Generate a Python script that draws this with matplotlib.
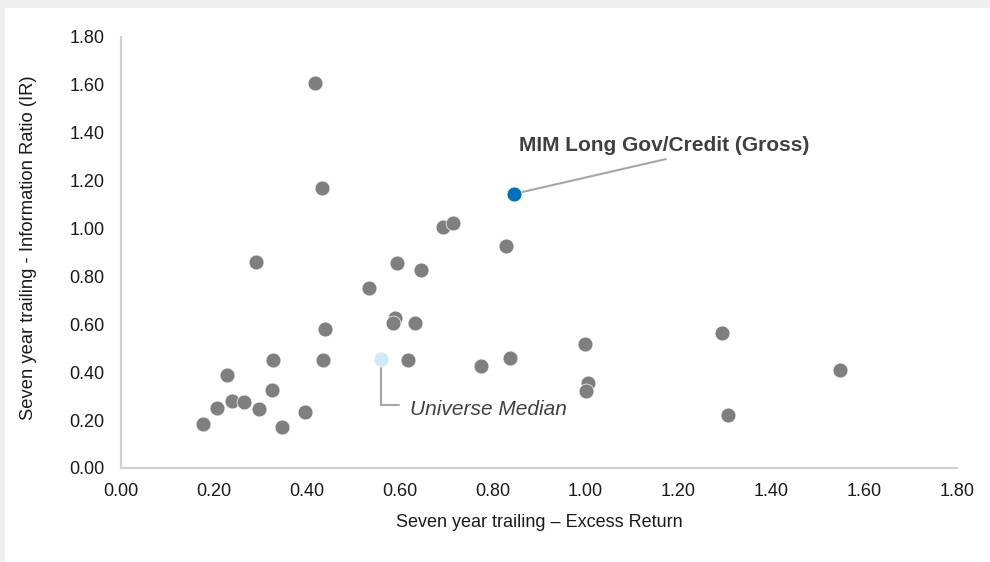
import matplotlib
matplotlib.use("Agg")
import matplotlib.pyplot as plt
from matplotlib.patches import Rectangle

plt.rcParams['font.family'] = ['Liberation Sans', 'DejaVu Sans']

# ---- data ----
universe_x = [0.418, 0.432, 0.693, 0.715, 0.291, 0.594, 0.647, 0.533, 0.591, 0.586,
              0.634, 0.440, 0.327, 0.436, 0.619, 0.775, 0.229, 0.325, 0.239, 0.265,
              0.206, 0.298, 0.397, 0.176, 0.346, 0.829, 0.998, 0.837, 1.005, 1.002,
              1.293, 1.308, 1.548]
universe_y = [1.607, 1.168, 1.008, 1.024, 0.862, 0.857, 0.829, 0.750, 0.626, 0.606,
              0.606, 0.579, 0.453, 0.451, 0.451, 0.425, 0.388, 0.324, 0.281, 0.275,
              0.249, 0.246, 0.233, 0.182, 0.171, 0.926, 0.518, 0.458, 0.357, 0.320,
              0.565, 0.221, 0.408]
mim_x, mim_y = [0.847], [1.145]
median_x, median_y = [0.559], [0.454]
mim_label = "MIM Long Gov/Credit (Gross)"
median_label = "Universe Median"
x_ticks = [0.0, 0.2, 0.4, 0.6, 0.8, 1.0, 1.2, 1.4, 1.6, 1.8]
y_ticks = [0.0, 0.2, 0.4, 0.6, 0.8, 1.0, 1.2, 1.4, 1.6, 1.8]
x_label = "Seven year trailing \u2013 Excess Return"
y_label = "Seven year trailing - Information Ratio (IR)"

W, H = 990, 562
fig = plt.figure(figsize=(W / 100, H / 100), dpi=100)
fig.patch.set_facecolor('white')
# light gray frame at top and left
fig.patches.append(Rectangle((0, 1 - 8 / H), 1, 8 / H, transform=fig.transFigure,
                             facecolor='#efefef', edgecolor='none', zorder=0))
fig.patches.append(Rectangle((0, 0), 5 / W, 1, transform=fig.transFigure,
                             facecolor='#efefef', edgecolor='none', zorder=0))

ax = fig.add_axes([121 / W, 1 - 468 / H, (957 - 121) / W, (468 - 37) / H])
ax.set_facecolor('none')

msize = 115
ax.scatter(universe_x, universe_y, s=msize, color='#7f7f7f', edgecolors='white',
           linewidths=0.5, zorder=3)
ax.scatter(median_x, median_y, s=msize, color='#cde9fb', edgecolors='white',
           linewidths=0.5, zorder=3)
ax.scatter(mim_x, mim_y, s=msize, color='#0070c0', edgecolors='white',
           linewidths=0.5, zorder=4)

ax.set_xlim(0, 1.8)
ax.set_ylim(0, 1.8)
ax.set_xticks(x_ticks)
ax.set_yticks(y_ticks)
ax.set_xticklabels([f"{v:.2f}" for v in x_ticks])
ax.set_yticklabels([f"{v:.2f}" for v in y_ticks])
ax.tick_params(axis='both', length=0, labelsize=13, colors='#1a1a1a')
ax.tick_params(axis='y', pad=12)
ax.tick_params(axis='x', pad=11)

for s in ['top', 'right']:
    ax.spines[s].set_visible(False)
for s in ['left', 'bottom']:
    ax.spines[s].set_color('#d0d0d0')
    ax.spines[s].set_linewidth(1.5)

ax.set_xlabel(x_label, fontsize=13, color='#1a1a1a', labelpad=10)
ax.set_ylabel(y_label, fontsize=13.2, color='#1a1a1a', labelpad=23)
ax.yaxis.label.set_y(0.512)

# MIM annotation
ax.annotate('', xy=(mim_x[0], mim_y[0]), xytext=(109, 25), textcoords='offset points',
            arrowprops=dict(arrowstyle='-', color='#a6a6a6', lw=1.5, shrinkA=0, shrinkB=5),
            zorder=2)
ax.annotate(mim_label, xy=(mim_x[0], mim_y[0]), xytext=(108, 35), textcoords='offset points',
            ha='center', va='center', fontsize=15, fontweight='bold', color='#404040')

# Median annotation
ax.annotate('', xy=(median_x[0], median_y[0]), xytext=(13, -33), textcoords='offset points',
            arrowprops=dict(arrowstyle='-', color='#a6a6a6', lw=1.5, shrinkA=0, shrinkB=5,
                            connectionstyle='angle,angleA=180,angleB=90,rad=0'),
            zorder=2)
ax.annotate(median_label, xy=(median_x[0], median_y[0]), xytext=(21.5, -36),
            textcoords='offset points', ha='left', va='center', fontsize=15,
            fontstyle='italic', color='#404040')

fig.savefig('out.png', dpi=100)
